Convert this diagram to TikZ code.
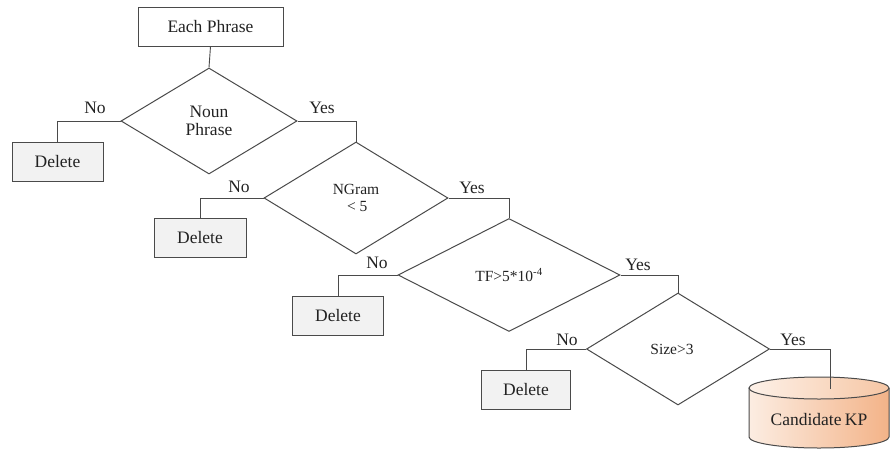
\documentclass[tikz,border=0pt]{standalone}
\usepackage{fontspec}
\setmainfont{Liberation Serif}
\usetikzlibrary{shapes.geometric}
\definecolor{lineg}{HTML}{4A4A4A}
\definecolor{boxg}{HTML}{F2F2F2}
\definecolor{txt}{HTML}{222222}
\definecolor{cylL}{HTML}{FCEDE2}
\definecolor{cylR}{HTML}{F3B388}
\definecolor{topL}{HTML}{FDF1E8}
\definecolor{topR}{HTML}{F6C6A4}
\tikzset{
  conn/.style={draw=lineg, line width=0.9pt},
  bigtext/.style={font=\fontsize{17.5}{19.5}\selectfont, text=txt},
  smalltext/.style={font=\fontsize{15.5}{18}\selectfont, text=txt},
  startbox/.style={draw=lineg, line width=1pt, fill=white, inner sep=0pt, bigtext},
  delbox/.style={draw=lineg, line width=1pt, fill=boxg, inner sep=0pt, bigtext, minimum height=39pt},
  decision/.style={diamond, draw=lineg, line width=1pt, inner sep=0pt, align=center},
  lbl/.style={bigtext, inner sep=0pt},
  cylline/.style={draw=lineg, line width=1pt}
}
\begin{document}
\begin{tikzpicture}[x=1pt, y=-1pt]
\useasboundingbox (0,0) rectangle (891,450);

% start box
\node[startbox, minimum width=145pt, minimum height=39pt] (start) at (210.5,26.5) {Each Phrase};

% decisions
\node[decision, bigtext, minimum width=176pt, minimum height=106pt] (d1) at (209,121) {Noun\\[-1pt]Phrase};
\node[decision, smalltext, minimum width=184pt, minimum height=112pt] (d2) at (356,198) {NGram\\[-1pt]\,< 5};
\node[decision, smalltext, minimum width=222pt, minimum height=113pt] (d3) at (509,275) {TF>5*10\textsuperscript{-4}};
\node[decision, smalltext, minimum width=183pt, minimum height=112pt] (d4) at (678,349) {Size>3\hspace{12pt}};

% delete boxes
\node[delbox, minimum width=91pt] (del1) at (57.5,162) {Delete};
\node[delbox, minimum width=92pt] (del2) at (200,237.5) {Delete};
\node[delbox, minimum width=91pt] (del3) at (338,315.5) {Delete};
\node[delbox, minimum width=89pt] (del4) at (526,389.5) {Delete};

% candidate KP cylinder
\shade[left color=cylL, right color=cylR] (749,388) -- (749,437)
  arc[start angle=180, end angle=0, x radius=70, y radius=11] -- (889,388) -- cycle;
\shade[left color=topL, right color=topR] (819,388) ellipse[x radius=70, y radius=11];
\draw[cylline] (749,388) -- (749,437)
  arc[start angle=180, end angle=0, x radius=70, y radius=11] -- (889,388);
\draw[cylline] (819,388) ellipse[x radius=70, y radius=11];
\node[bigtext, inner sep=0pt] (kp) at (819,420) {Candidate\hspace{-1pt} KP};
\coordinate (kpin) at (830,389);

% connectors
\draw[conn] (start.south) -- (d1.north);
\draw[conn] (d1.west) -| (del1.north);
\draw[conn] (d1.east) -| (d2.north);
\draw[conn] (d2.west) -| (del2.north);
\draw[conn] (d2.east) -| (d3.north);
\draw[conn] (d3.west) -| (del3.north);
\draw[conn] (d3.east) -| (d4.north);
\draw[conn] (d4.west) -| (del4.north);
\draw[conn] (d4.east) -| (kpin);

% labels
\node[lbl] (no1) at (95,108) {No};
\node[lbl] (yes1) at (322,108) {Yes};
\node[lbl] (no2) at (239,187) {No};
\node[lbl] (yes2) at (472,188) {Yes};
\node[lbl] (no3) at (377,263) {No};
\node[lbl] (yes3) at (638,265) {Yes};
\node[lbl] (no4) at (567,340) {No};
\node[lbl] (yes4) at (793,340) {Yes};
\end{tikzpicture}
\end{document}
